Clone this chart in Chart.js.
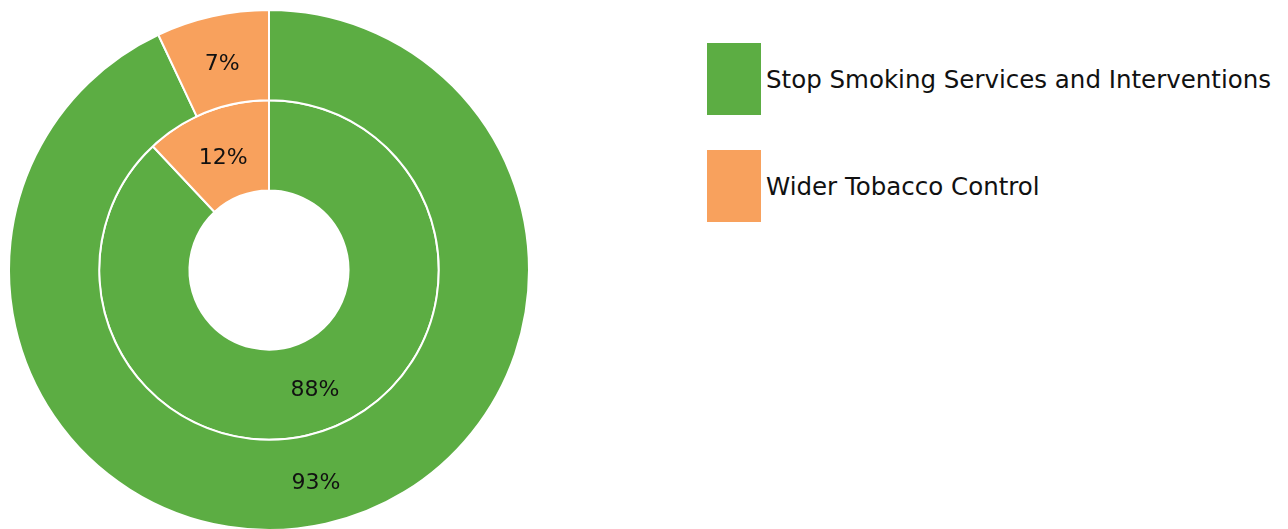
<!DOCTYPE html>
<html>
<head>
<meta charset="utf-8">
<script src="https://cdn.jsdelivr.net/npm/chart.js@4"></script>
<style>
  body { margin: 0; background: #fff; font-family: "DejaVu Sans", Verdana, sans-serif; }
  #wrap { position: relative; width: 1288px; height: 529px; overflow: hidden; }
  #pie { position: absolute; left: 0; top: 0; width: 538px; height: 531px; }
  #legend { position: absolute; left: 707px; top: 43px; }
  .item { display: flex; align-items: center; height: 72px; margin-bottom: 35px; }
  .swatch { width: 54px; height: 72px; margin-right: 5px; }
  .label { font-size: 24.5px; color: #111; }
</style>
</head>
<body>
<div id="wrap">
  <div id="pie"><canvas id="chartCanvas"></canvas></div>
  <div id="legend"></div>
</div>
<script>
const categories = ["Stop Smoking Services and Interventions", "Wider Tobacco Control"];
const outerValues = [93, 7];
const innerValues = [88, 12];
const colors = ["#5cad43", "#f8a15d"];

// draw the percentage text at the centre of each arc
const arcLabels = {
    id: "arcLabels",
    afterDatasetsDraw(chart) {
        const ctx = chart.ctx;
        ctx.save();
        ctx.font = "22px 'DejaVu Sans', Verdana, sans-serif";
        ctx.fillStyle = "#111";
        ctx.textAlign = "center";
        ctx.textBaseline = "middle";
        chart.data.datasets.forEach((ds, i) => {
            chart.getDatasetMeta(i).data.forEach((arc, j) => {
                const p = arc.tooltipPosition();
                ctx.fillText(ds.data[j] + "%", p.x, p.y + 4);
            });
        });
        ctx.restore();
    }
};

const ctx = document.getElementById("chartCanvas").getContext("2d");

new Chart(ctx, {
    type: "doughnut",
    data: {
        labels: categories,
        datasets: [
            { data: outerValues, backgroundColor: colors, borderColor: "#fff", borderWidth: 2 },
            { data: innerValues, backgroundColor: colors, borderColor: "#fff", borderWidth: 2 }
        ]
    },
    options: {
        responsive: true,
        maintainAspectRatio: false,
        animation: false,
        cutout: "30.6%",
        layout: { padding: { top: 9, left: 8, right: 8, bottom: 0 } },
        plugins: {
            legend: { display: false },
            tooltip: { enabled: false }
        }
    },
    plugins: [arcLabels]
});

const legend = document.getElementById("legend");
categories.forEach((name, i) => {
    legend.innerHTML += `
        <div class="item">
            <div class="swatch" style="background:${colors[i]}"></div>
            <span class="label">${name}</span>
        </div>`;
});
</script>
</body>
</html>
